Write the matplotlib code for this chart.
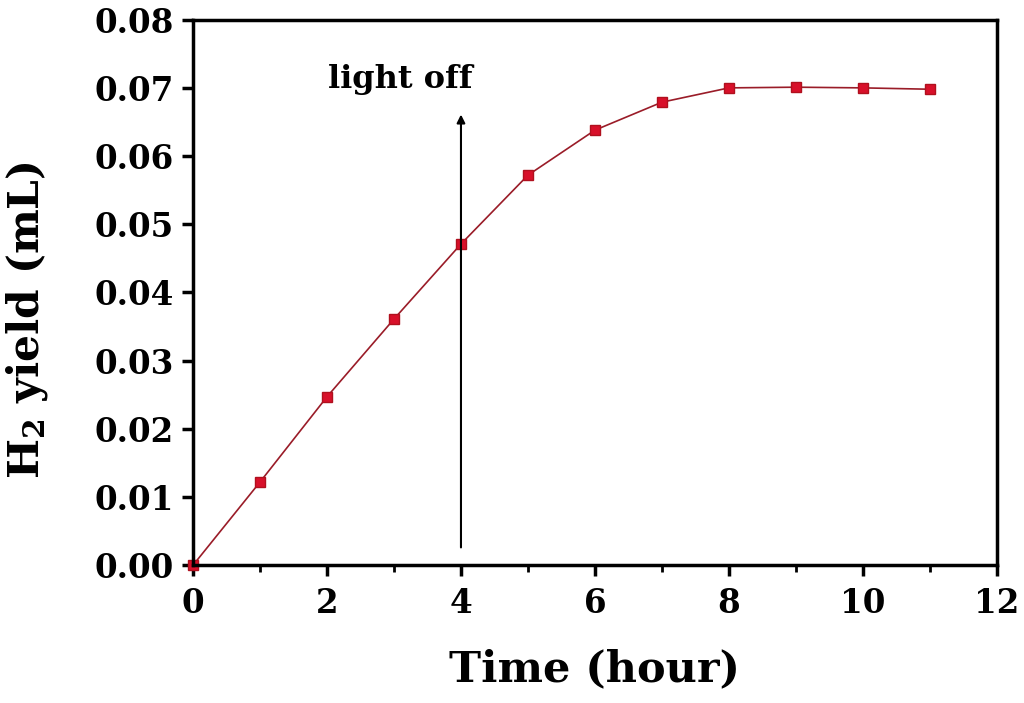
import matplotlib
matplotlib.use("Agg")
import matplotlib.pyplot as plt
from matplotlib.ticker import MultipleLocator

plt.rcParams['font.family'] = ['DejaVu Serif']
plt.rcParams['font.weight'] = 'bold'
plt.rcParams['mathtext.fontset'] = 'dejavuserif'

time_h = [0, 1, 2, 3, 4, 5, 6, 7, 8, 9, 10, 11]
h2_yield = [0.0, 0.0122, 0.0247, 0.0361, 0.0471, 0.0572, 0.0638, 0.0679, 0.0700, 0.0701, 0.0700, 0.0698]

fig = plt.figure(figsize=(10.24, 7.03), dpi=100)
ax = fig.add_axes([0.1885, 0.196, 0.785, 0.776])

ax.plot(time_h, h2_yield, color='#9a1c28', lw=1.2, marker='s', ms=7,
        mfc='#d8102a', mec='#b0101e', clip_on=False)

ax.annotate('', xy=(4, 0.0665), xytext=(4, 0.0022),
            arrowprops=dict(arrowstyle='-|>', color='black', lw=1.5, mutation_scale=12))
ax.text(3.1, 0.0712, 'light off', ha='center', va='center', fontsize=23, fontweight='bold')

ax.set_xlim(0, 12)
ax.set_ylim(0, 0.08)
ax.xaxis.set_major_locator(MultipleLocator(2))
ax.xaxis.set_minor_locator(MultipleLocator(1))
ax.yaxis.set_major_locator(MultipleLocator(0.01))
ax.tick_params(which='major', direction='out', length=8, width=2.5, labelsize=23.5, pad=6)
ax.tick_params(which='minor', direction='out', length=5, width=2)
ax.tick_params(axis='x', pad=8)
ax.yaxis.set_major_formatter(plt.FormatStrFormatter('%.2f'))
for s in ax.spines.values():
    s.set_linewidth(2.5)
for lab in ax.get_xticklabels() + ax.get_yticklabels():
    lab.set_fontweight('bold')

ax.set_xlabel('Time (hour)', fontsize=31, fontweight='bold')
ax.set_ylabel('H$_{\\mathbf{2}}$ yield (mL)', fontsize=30.5, fontweight='bold')
ax.xaxis.set_label_coords(0.5, -0.152)
ax.yaxis.set_label_coords(-0.178, 0.45)

fig.savefig('out.png', dpi=100)
